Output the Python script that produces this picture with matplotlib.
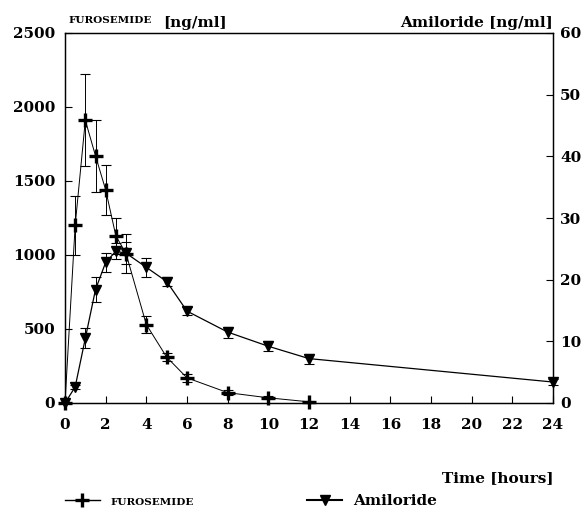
import matplotlib
matplotlib.use("Agg")
import matplotlib.pyplot as plt

# Data
fur_time = [0, 0.5, 1, 1.5, 2, 2.5, 3, 4, 5, 6, 8, 10, 12]
fur_conc = [0, 1200, 1910, 1670, 1440, 1130, 1010, 530, 310, 170, 70, 35, 8]
fur_err = [0, 200, 310, 245, 170, 120, 130, 60, 25, 25, 15, 10, 5]

ami_time = [0, 0.5, 1, 1.5, 2, 2.5, 3, 4, 5, 6, 8, 10, 12, 24]
ami_conc = [0, 2.6, 10.5, 18.4, 22.8, 24.6, 24.3, 22.0, 19.7, 14.9, 11.5, 9.2, 7.2, 3.4]
ami_err = [0, 0.4, 1.6, 2.0, 1.6, 1.3, 1.8, 1.5, 0.8, 0.7, 0.9, 0.8, 0.8, 0.5]

x_ticks = list(range(0, 25, 2))
left_ticks = [0, 500, 1000, 1500, 2000, 2500]
right_ticks = [0, 10, 20, 30, 40, 50, 60]

FONT = "DejaVu Serif"
W, H = 583, 512
fig = plt.figure(figsize=(W / 100, H / 100), dpi=100)
ax = fig.add_axes([65 / W, 1 - 403 / H, (553 - 65) / W, (403 - 33) / H])
ax2 = ax.twinx()

# error bars (thin) then lines + markers
ax.errorbar(fur_time, fur_conc, yerr=fur_err, fmt="none", ecolor="black",
            elinewidth=0.7, capsize=3.5, capthick=0.8, clip_on=False, zorder=2)
ax.plot(fur_time, fur_conc, color="black", lw=0.7, marker="+", ms=10,
        mew=2.4, clip_on=False, zorder=3)
ax2.errorbar(ami_time, ami_conc, yerr=ami_err, fmt="none", ecolor="black",
             elinewidth=0.7, capsize=3.5, capthick=0.8, clip_on=False, zorder=2)
ax2.plot(ami_time, ami_conc, color="black", lw=0.9, marker="v", ms=7,
         mfc="black", mec="black", clip_on=False, zorder=3)

ax.set_xlim(0, 24)
ax.set_ylim(0, 2500)
ax2.set_ylim(0, 60)
ax.set_xticks(x_ticks)
ax.set_yticks(left_ticks)
ax2.set_yticks(right_ticks)

ax.tick_params(axis="x", direction="in", length=5, pad=11, width=0.8)
ax.tick_params(axis="y", direction="in", length=5, pad=7, width=0.8)
ax2.tick_params(axis="y", direction="in", length=5, pad=5, width=0.8)

for lab in ax.get_xticklabels() + ax.get_yticklabels() + ax2.get_yticklabels():
    lab.set_family(FONT)
    lab.set_fontweight("bold")
    lab.set_fontsize(11)

for a in (ax, ax2):
    for s in a.spines.values():
        s.set_linewidth(0.9)

# Axis titles
fig.text(68 / W, 1 - 23 / H, "FUROSEMIDE", family=FONT, weight="bold",
         fontsize=7.5, va="baseline", ha="left")
fig.text(163 / W, 1 - 27 / H, "[ng/ml]", family=FONT, weight="bold",
         fontsize=11, va="baseline", ha="left")
fig.text(553 / W, 1 - 27 / H, "Amiloride [ng/ml]", family=FONT,
         weight="bold", fontsize=11, va="baseline", ha="right")
fig.text(553 / W, 1 - 482 / H, "Time [hours]", family=FONT, weight="bold",
         fontsize=11, va="baseline", ha="right")

# Legend
h1 = plt.Line2D([], [], color="black", lw=1, marker="+", ms=10, mew=2.4)
h2 = plt.Line2D([], [], color="black", lw=1.5, marker="v", ms=7)
leg = fig.legend([h1, h2], ["FUROSEMIDE", "Amiloride"], ncol=2,
                 loc="lower left", bbox_to_anchor=(51 / W, -0.02),
                 frameon=False, handlelength=2.3, handletextpad=0.7,
                 columnspacing=7.4,
                 prop={"family": FONT, "weight": "bold", "size": 11})
leg.get_texts()[0].set_fontsize(7.5)

fig.savefig("out.png", dpi=100)
